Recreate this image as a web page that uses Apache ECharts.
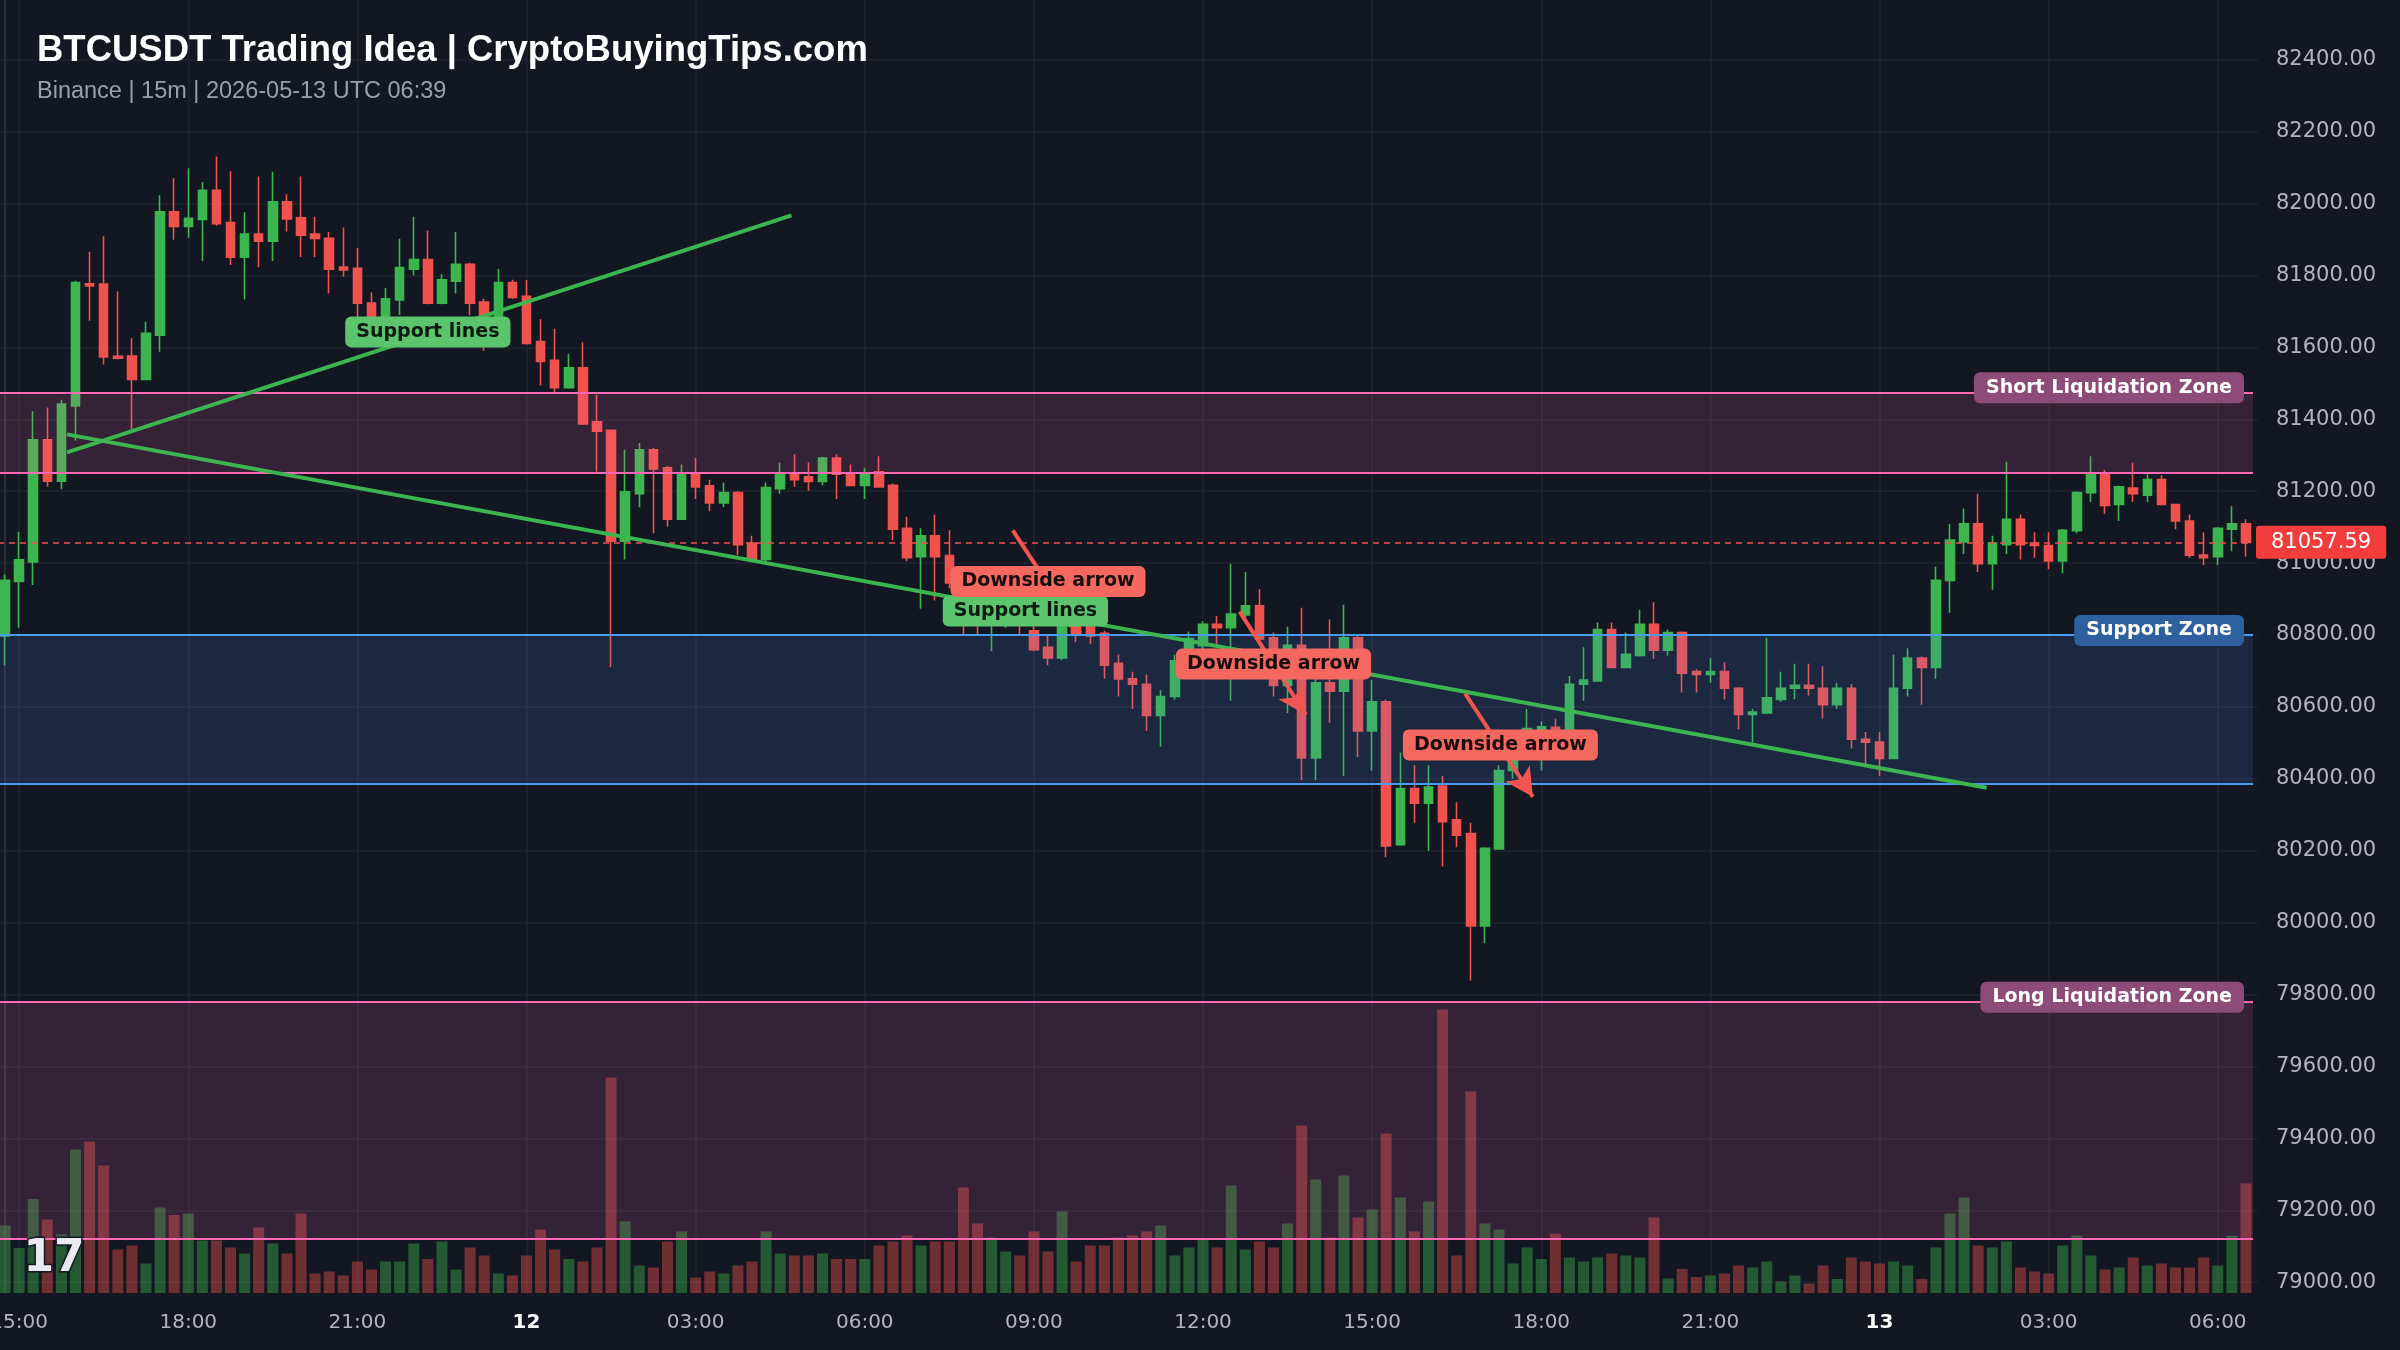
<!DOCTYPE html>
<html><head><meta charset="utf-8">
<script src="https://cdn.jsdelivr.net/npm/echarts@6/dist/echarts.min.js"></script>
<style>html,body{margin:0;padding:0;background:#131722;}#c{width:2400px;height:1350px;}</style>
</head><body><div id="c"></div>
<script>
// ---------------- data ----------------
const TITLE = 'BTCUSDT Trading Idea | CryptoBuyingTips.com';
const SUBTITLE = 'Binance | 15m | 2026-05-13 UTC 06:39';
const START_UTC = Date.UTC(2026, 4, 11, 14, 45);   // first visible 15m candle
const STEP_MIN = 15;

// [open, close, low, high]
const OHLC = [
[80797,80952,80716,80968],[80949,81009,80820,81087],[81003,81343,80939,81422],[81343,81228,81213,81433],[81228,81442,81206,81454],
[81437,81780,81341,81785],[81777,81771,81674,81866],[81776,81573,81552,81909],[81575,81570,81567,81755],[81576,81511,81373,81625],
[81511,81639,81511,81671],[81634,81977,81588,82023],[81977,81936,81899,82070],[81936,81959,81905,82098],[81956,82037,81840,82060],
[82037,81944,81938,82131],[81947,81851,81829,82090],[81851,81915,81733,81976],[81915,81895,81823,82075],[81895,82005,81840,82088],
[82005,81957,81922,82026],[81960,81912,81851,82075],[81915,81903,81851,81963],[81903,81817,81750,81921],[81823,81815,81796,81933],
[81820,81723,81674,81876],[81723,81686,81666,81753],[81686,81735,81660,81765],[81732,81822,81690,81902],[81817,81844,81800,81963],
[81844,81723,81720,81925],[81723,81788,81720,81803],[81784,81831,81750,81921],[81831,81723,81689,81835],[81726,81674,81590,81735],
[81674,81780,81660,81818],[81780,81739,81735,81788],[81742,81611,81608,81787],[81616,81561,81494,81678],[81564,81488,81475,81652],
[81488,81543,81485,81582],[81543,81387,81384,81614],[81393,81367,81254,81469],[81369,81061,80710,81370],[81061,81198,81010,81315],
[81193,81315,81155,81334],[81315,81262,81083,81320],[81265,81122,81102,81270],[81122,81247,81120,81274],[81247,81212,81178,81292],
[81215,81167,81144,81232],[81167,81196,81155,81224],[81196,81051,81022,81200],[81056,81010,81008,81076],[81010,81210,81003,81224],
[81207,81247,81193,81280],[81250,81232,81212,81303],[81240,81227,81201,81280],[81227,81292,81216,81296],[81292,81247,81178,81303],
[81250,81216,81214,81274],[81216,81250,81178,81265],[81254,81212,81210,81297],[81216,81094,81064,81221],[81097,81015,81006,81129],
[81018,81076,80873,81097],[81076,81018,80896,81135],[81021,80945,80930,81091],[80945,80860,80800,80960],[80860,80850,80800,80890],
[80830,80870,80755,80890],[80850,80880,80820,80905],[80880,80830,80800,80895],[80812,80759,80755,80840],[80766,80736,80716,80797],
[80736,80835,80730,80860],[80835,80800,80780,80870],[80835,80797,80774,80860],[80805,80716,80678,80812],[80721,80678,80629,80746],
[80678,80663,80594,80698],[80663,80576,80533,80690],[80576,80629,80489,80647],[80629,80728,80620,80745],[80728,80790,80700,80810],
[80770,80830,80750,80838],[80830,80820,80774,80853],[80820,80858,80617,80998],[80856,80881,80850,80975],[80881,80789,80774,80927],
[80792,80660,80629,80807],[80660,80771,80583,80823],[80771,80458,80396,80876],[80458,80667,80396,80682],[80667,80644,80556,80843],
[80644,80792,80408,80884],[80792,80533,80461,80800],[80533,80614,80423,80675],[80614,80213,80182,80620],[80217,80373,80215,80473],
[80373,80332,80278,80438],[80332,80377,80199,80438],[80380,80281,80156,80408],[80286,80243,80210,80335],[80248,79991,79839,80278],
[79991,80207,79943,80210],[80205,80423,80203,80438],[80423,80480,80400,80500],[80480,80540,80460,80594],[80533,80545,80423,80560],
[80543,80530,80500,80568],[80533,80663,80530,80686],[80663,80675,80617,80766],[80672,80815,80670,80835],[80815,80710,80708,80835],
[80710,80746,80708,80807],[80743,80830,80740,80870],[80830,80758,80733,80891],[80758,80807,80743,80815],[80807,80694,80640,80810],
[80698,80690,80640,80705],[80690,80698,80667,80736],[80698,80652,80621,80724],[80652,80579,80538,80655],[80579,80586,80500,80594],
[80583,80625,80580,80792],[80621,80652,80614,80698],[80652,80660,80621,80720],[80660,80652,80632,80720],[80652,80606,80568,80713],
[80606,80652,80594,80667],[80652,80510,80484,80663],[80510,80502,80441,80530],[80502,80457,80408,80530],[80457,80652,80455,80746],
[80652,80736,80629,80763],[80736,80710,80606,80740],[80710,80952,80678,80990],[80952,81064,80862,81109],[81059,81109,81025,81152],
[81109,80998,80975,81193],[80998,81056,80926,81076],[81051,81122,81025,81282],[81122,81051,81010,81135],[81056,81049,81015,81086],
[81049,81006,80983,81086],[81006,81091,80972,81095],[81090,81196,81083,81200],[81196,81247,81170,81297],[81247,81160,81137,81259],
[81163,81212,81117,81215],[81209,81193,81170,81280],[81189,81232,81170,81247],[81232,81163,81160,81244],[81163,81117,81094,81165],
[81117,81022,81015,81135],[81022,81015,80995,81086],[81018,81097,80995,81100],[81094,81109,81033,81158],[81109,81057.59,81018,81122]
];

const VOLUME = [
135,90,188,147,117,287,303,255,87,95, 59,171,156,159,105,105,91,79,131,99,
79,159,39,43,35,63,47,63,63,99, 68,103,47,91,75,39,35,75,127,87,
68,63,91,431,143,55,51,103,123,31, 43,39,55,63,123,79,75,75,79,68,
68,68,95,103,115,95,103,103,211,139, 111,83,75,123,83,163,63,95,95,111,
115,123,135,75,91,106,91,215,87,103, 91,139,335,227,111,235,151,167,319,191,
123,183,567,75,403,139,127,59,91,68, 119,71,63,71,79,75,71,151,29,48,
32,35,39,55,51,63,23,35,19,55, 28,71,63,59,63,55,28,91,159,191,
95,91,103,51,43,39,95,115,75,47, 51,71,55,59,51,51,71,55,115,219
];

const PRICE_TICK_MIN = 79000, PRICE_TICK_MAX = 82400, PRICE_TICK_STEP = 200;
const LAST_PRICE = 81057.59;

const ZONE_NAMES  = ['Short Liquidation Zone', 'Support Zone', 'Long Liquidation Zone'];
const ZONE_BOTTOM = [81250, 80385, 79120];
const ZONE_TOP    = [81475, 80800, 79780];
const ZONE_KIND   = ['liq', 'support', 'liq'];
const CME_GAP_LEVEL = 82277;

// trend lines: [candle index, price]
const TREND_UP   = [[4.4, 81308], [55.8, 81967]];
const TREND_DOWN = [[4.4, 81358], [140.6, 80375]];
const SUPPORT_LABEL_POS = [[30, 81643], [72.4, 80867]];
const ARROWS = [
  [[71.5, 81091], [76.3, 80805]],
  [[87.6, 80865], [92.3, 80578]],
  [[103.6, 80637], [108.4, 80350]]
];
const ARROW_LABEL_POS = [[74.0, 80949], [90.0, 80719], [106.1, 80494]];

// ---------------- derived ----------------
const N = OHLC.length;
const pad = n => String(n).padStart(2, '0');
const CATEGORIES = OHLC.map((_, i) => {
  const d = new Date(START_UTC + i * STEP_MIN * 60000);
  return d.toISOString().slice(0, 16);
});
const TICK_IDX = CATEGORIES.map((c, i) => i).filter(i => {
  const d = new Date(CATEGORIES[i] + ':00Z');
  return d.getUTCMinutes() === 0 && d.getUTCHours() % 3 === 0;
});

const UP = '#3db54f', DOWN = '#f0524d';
const UP_VOL = 'rgba(61,181,79,0.42)', DOWN_VOL = 'rgba(240,82,77,0.42)';
const BG = '#131722', GRIDC = '#20242f', AXIS_TXT = '#b2b5be';
const PINK = '#ff69b4', BLUE = '#4a9bf0';

const GRID = {left: -2, right: 147, top: 0, bottom: 57};
const PRICE_MIN = 78970, PRICE_MAX = 82566;
const H = 1350;
const plotH = H - GRID.top - GRID.bottom;
const yOf = p => GRID.top + (PRICE_MAX - p) / (PRICE_MAX - PRICE_MIN) * plotH;
const VOL_MAX = 2 * plotH;

const chart = echarts.init(document.getElementById('c'), null, {renderer: 'canvas', width: 2400, height: 1350});

const zoneLabelStyle = (bg) => ({
  show: true, position: 'insideEndTop', distance: [9, -11],
  color: '#ffffff', fontFamily: 'DejaVu Sans', fontWeight: 'bold', fontSize: 19,
  backgroundColor: bg, padding: [6, 12], borderRadius: 6
});

const zoneLines = [];
ZONE_NAMES.forEach((name, k) => {
  const col = ZONE_KIND[k] === 'liq' ? PINK : BLUE;
  const bg = ZONE_KIND[k] === 'liq' ? '#8c4b78' : '#2e5f9f';
  zoneLines.push({yAxis: ZONE_TOP[k], lineStyle: {color: col, width: 2, type: 'solid'},
    label: Object.assign(zoneLabelStyle(bg), {formatter: name})});
  zoneLines.push({yAxis: ZONE_BOTTOM[k], lineStyle: {color: col, width: 2, type: 'solid'}, label: {show: false}});
});
zoneLines.push({yAxis: CME_GAP_LEVEL, lineStyle: {opacity: 0},
  label: Object.assign(zoneLabelStyle('#695a8c'), {formatter: 'CME Gap'})});

const boxLabel = (bg, fg) => ({
  show: true, position: 'inside', formatter: '{b}', color: fg, fontFamily: 'DejaVu Sans',
  fontWeight: 'bold', fontSize: 19, backgroundColor: bg, padding: [6, 11], borderRadius: 6
});

const option = {
  backgroundColor: BG,
  animation: false,
  title: [
    {text: TITLE, left: 37, top: 32, padding: 0,
     textStyle: {color: '#ffffff', fontSize: 36.5, fontWeight: 'bold', fontFamily: 'Liberation Sans'}},
    {text: SUBTITLE, left: 37, top: 80, padding: 0,
     textStyle: {color: '#9aa0ab', fontSize: 23.5, fontWeight: 'normal', fontFamily: 'Liberation Sans'}}
  ],
  grid: [
    {left: GRID.left, right: GRID.right, top: GRID.top, bottom: GRID.bottom, containLabel: false, outerBoundsMode: 'none'},
    {left: GRID.left, right: 142, top: yOf(PRICE_TICK_MAX), bottom: H - yOf(PRICE_TICK_MIN), containLabel: false, outerBoundsMode: 'none'}
  ],
  xAxis: [
    {type: 'category', gridIndex: 0, data: CATEGORIES, boundaryGap: true,
     axisLine: {show: false}, axisTick: {show: false}, splitLine: {show: false},
     axisLabel: {
       interval: (i) => TICK_IDX.indexOf(i) >= 0, hideOverlap: false,
       color: AXIS_TXT, fontFamily: 'DejaVu Sans', fontSize: 20, margin: 20,
       formatter: (v) => {
         const d = new Date(v + ':00Z');
         if (d.getUTCHours() === 0 && d.getUTCMinutes() === 0) return '{d|' + d.getUTCDate() + '}';
         return pad(d.getUTCHours()) + ':' + pad(d.getUTCMinutes());
       },
       rich: {d: {color: '#ffffff', fontWeight: 'bold', fontFamily: 'DejaVu Sans', fontSize: 20}}
     }},
    {type: 'value', gridIndex: 0, show: false, min: -0.5, max: N - 0.5, position: 'top'},
    {type: 'value', gridIndex: 1, show: false, min: 0, max: 1}
  ],
  yAxis: [
    {type: 'value', gridIndex: 0, min: PRICE_MIN, max: PRICE_MAX, position: 'right', scale: true,
     axisLabel: {show: false}, axisTick: {show: false}, splitLine: {show: false},
     axisLine: {show: true, lineStyle: {color: '#2a2e39', width: 2}}},
    {type: 'value', gridIndex: 0, min: 0, max: VOL_MAX, show: false},
    {type: 'value', gridIndex: 1, min: PRICE_TICK_MIN, max: PRICE_TICK_MAX, interval: PRICE_TICK_STEP, position: 'right',
     axisLine: {show: false}, axisTick: {show: false},
     splitLine: {show: true, lineStyle: {color: GRIDC, width: 1.5}},
     axisLabel: {color: AXIS_TXT, fontFamily: 'DejaVu Sans', fontSize: 21, margin: 18,
                 formatter: (v) => v.toFixed(2)}}
  ],
  series: [
    { // vertical grid lines at the labelled times
      type: 'line', xAxisIndex: 0, yAxisIndex: 0, data: [], silent: true,
      markLine: {z: 1, silent: true, symbol: 'none', label: {show: false},
        lineStyle: {color: GRIDC, width: 1.5, type: 'solid'},
        data: TICK_IDX.map(i => ({xAxis: CATEGORIES[i]}))}
    },
    {
      name: 'Volume', type: 'bar', xAxisIndex: 0, yAxisIndex: 1, z: 2, barWidth: 11,
      data: VOLUME.map((v, i) => ({value: v, itemStyle: {color: OHLC[i][1] >= OHLC[i][0] ? UP_VOL : DOWN_VOL}}))
    },
    {
      name: 'BTCUSDT', type: 'candlestick', xAxisIndex: 0, yAxisIndex: 0, z: 2, barWidth: 9,
      itemStyle: {color: UP, color0: DOWN, borderColor: UP, borderColor0: DOWN, borderWidth: 1.6},
      data: OHLC
    },
    { // zones, zone edges, labels, last price
      type: 'line', xAxisIndex: 0, yAxisIndex: 0, data: [], silent: true,
      markArea: {z: 3, silent: true,
        data: ZONE_NAMES.map((n, k) => [
          {yAxis: ZONE_BOTTOM[k], itemStyle: {color: ZONE_KIND[k] === 'liq' ? 'rgba(255,105,180,0.14)' : 'rgba(80,140,235,0.15)'}},
          {yAxis: ZONE_TOP[k]}
        ])},
      markLine: {z: 4, silent: true, symbol: 'none', precision: 2,
        data: zoneLines.concat([{
          yAxis: LAST_PRICE, lineStyle: {color: '#f0524d', width: 1.5, type: [6, 5]},
          label: {show: true, position: 'end', distance: [3, 0], formatter: () => LAST_PRICE.toFixed(2),
                  color: '#ffffff', fontFamily: 'DejaVu Sans', fontSize: 21,
                  backgroundColor: '#f23d3d', padding: [6, 15], borderRadius: 3}
        }])}
    },
    {
      name: 'Support line 1', type: 'line', xAxisIndex: 1, yAxisIndex: 0, z: 5, symbol: 'none', silent: true,
      lineStyle: {color: '#3cb550', width: 4}, data: TREND_UP,
      markPoint: {z: 7, symbol: 'rect', symbolSize: 1, itemStyle: {color: 'rgba(0,0,0,0)'},
        label: boxLabel('#5bc46d', '#0c1a10'),
        data: [{name: 'Support lines', coord: SUPPORT_LABEL_POS[0]}]}
    },
    {
      name: 'Support line 2', type: 'line', xAxisIndex: 1, yAxisIndex: 0, z: 5, symbol: 'none', silent: true,
      lineStyle: {color: '#3cb550', width: 4}, data: TREND_DOWN,
      markPoint: {z: 7, symbol: 'rect', symbolSize: 1, itemStyle: {color: 'rgba(0,0,0,0)'},
        label: boxLabel('#5bc46d', '#0c1a10'),
        data: [{name: 'Support lines', coord: SUPPORT_LABEL_POS[1]}]}
    },
    {
      name: 'Arrows', type: 'line', xAxisIndex: 1, yAxisIndex: 0, data: [], silent: true,
      markLine: {z: 6, silent: true, symbol: ['none', 'arrow'], symbolSize: [22, 28], label: {show: false},
        lineStyle: {color: '#f0564f', width: 4, type: 'solid'},
        data: ARROWS.map(a => [{coord: a[0]}, {coord: a[1]}])},
      markPoint: {z: 8, symbol: 'rect', symbolSize: 1, itemStyle: {color: 'rgba(0,0,0,0)'},
        label: boxLabel('#f4685f', '#1a0d0d'),
        data: ARROW_LABEL_POS.map(p => ({name: 'Downside arrow', coord: p}))}
    }
  ],
  graphic: [
    {type: 'text', left: 22, top: 1236, z: 100,
     style: {text: '17', fontSize: 44, fontWeight: 'bold', fontFamily: 'DejaVu Sans',
             fill: '#e8eaf0', stroke: '#131722', lineWidth: 3}}
  ]
};
chart.setOption(option);
</script>
</body></html>
